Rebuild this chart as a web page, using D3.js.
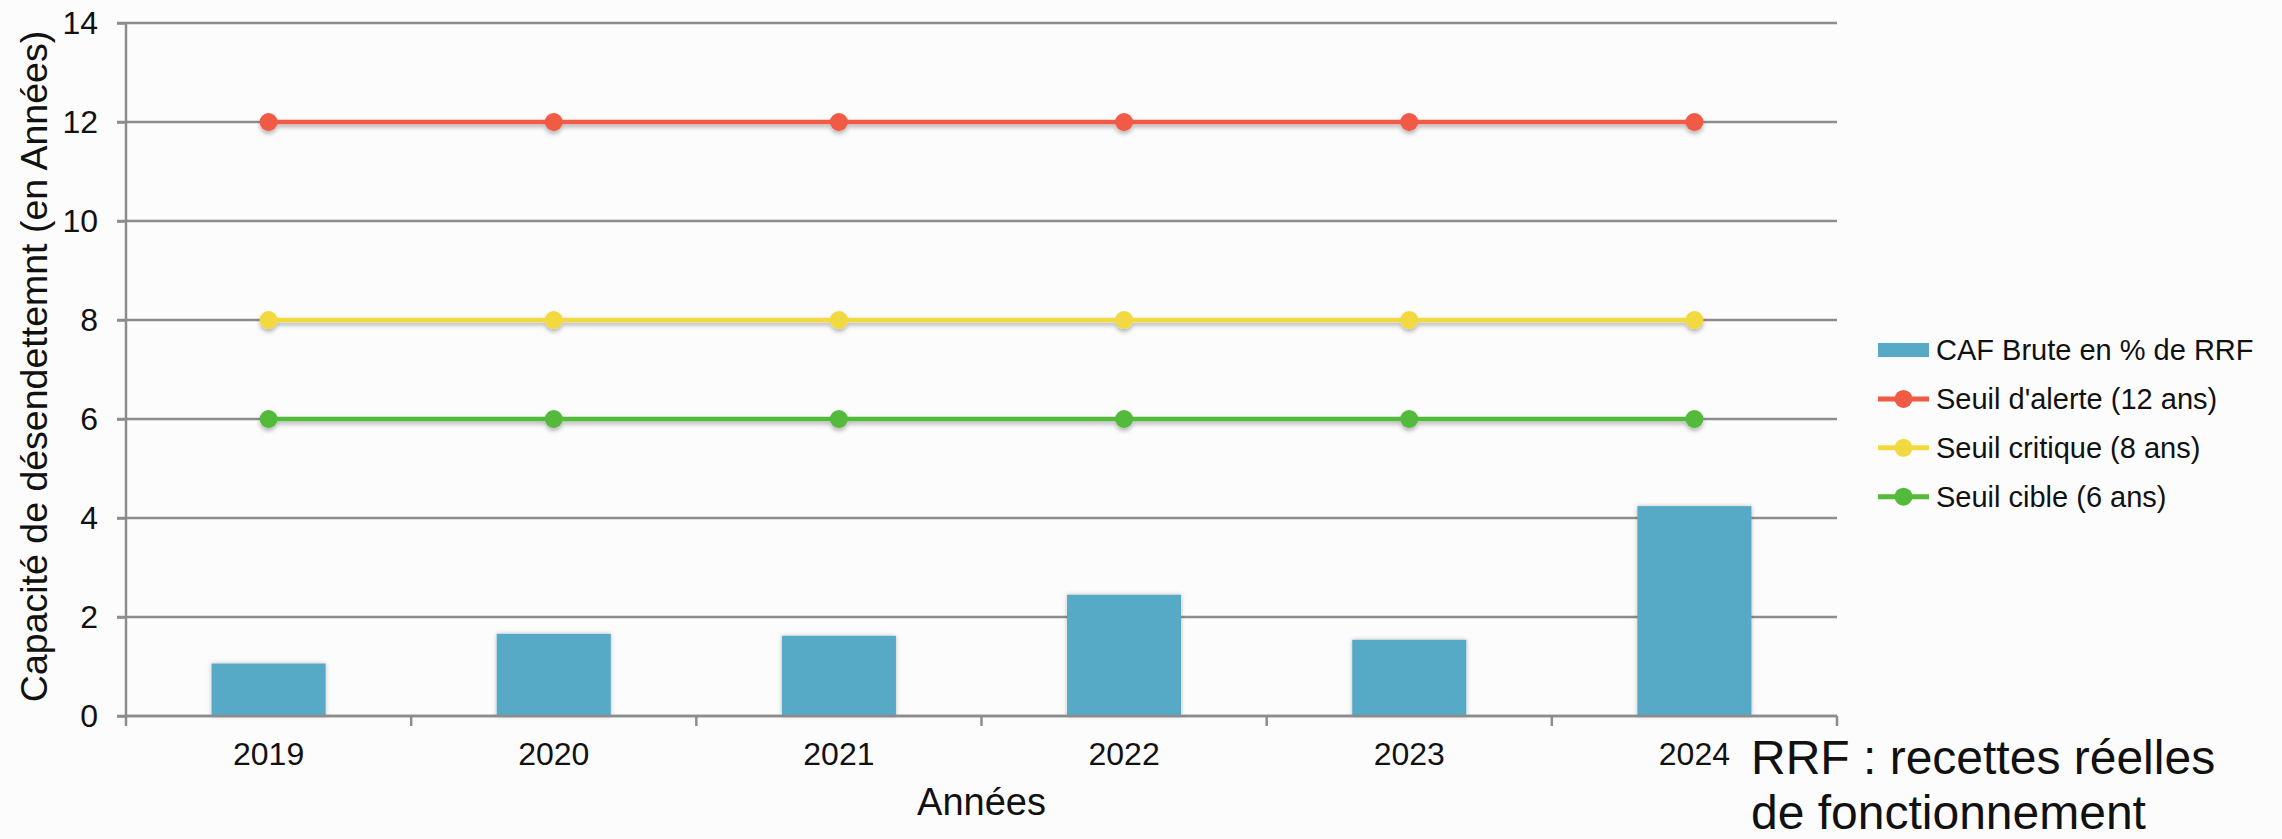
<!DOCTYPE html>
<html lang="fr">
<head>
<meta charset="utf-8">
<script src="https://cdn.jsdelivr.net/npm/d3@7"></script>
<style>
  html, body { margin: 0; padding: 0; background: #fcfcfc; }
  svg { display: block; font-family: "Liberation Sans", Arial, sans-serif; }
</style>
</head>
<body>
<svg id="chart" width="2282" height="839"></svg>
<script>
// Années et valeurs
const years = ["2019", "2020", "2021", "2022", "2023", "2024"];
const cafBrute = [1.06, 1.66, 1.62, 2.45, 1.54, 4.24];
const seuilAlerte = [12, 12, 12, 12, 12, 12];
const seuilCritique = [8, 8, 8, 8, 8, 8];
const seuilCible = [6, 6, 6, 6, 6, 6];
const yTicks = [0, 2, 4, 6, 8, 10, 12, 14];

const seriesNames = ["CAF Brute en % de RRF", "Seuil d'alerte (12 ans)", "Seuil critique (8 ans)", "Seuil cible (6 ans)"];
const colors = { bar: "#56aac5", alerte: "#f15a45", critique: "#f2d940", cible: "#53ba3a" };

const W = 2282, H = 839;
const plot = { left: 126, right: 1837, top: 23, bottom: 716 };

const svg = d3.select("#chart");

// Ombres portées des séries
const defs = svg.append("defs");
defs.append("filter").attr("id", "lineShadow")
  .attr("x", "-5%").attr("y", "-200%").attr("width", "110%").attr("height", "500%")
  .append("feDropShadow")
  .attr("dx", 0).attr("dy", 3).attr("stdDeviation", 2)
  .attr("flood-color", "#000").attr("flood-opacity", 0.28);
defs.append("filter").attr("id", "barShadow")
  .attr("x", "-20%").attr("y", "-10%").attr("width", "140%").attr("height", "120%")
  .append("feDropShadow")
  .attr("dx", 0).attr("dy", 0).attr("stdDeviation", 2)
  .attr("flood-color", "#000").attr("flood-opacity", 0.25);

svg.append("rect").attr("width", W).attr("height", H).attr("fill", "#fcfcfc");

const x = d3.scaleBand().domain(years).range([plot.left, plot.right]).paddingInner(0.6).paddingOuter(0.3);
const xPos = d => x(d) + x.bandwidth() / 2;
const y = d3.scaleLinear().domain([0, 14]).range([plot.bottom, plot.top]);

// Quadrillage horizontal
svg.append("g").selectAll("line").data(yTicks).join("line")
  .attr("x1", plot.left - 9).attr("x2", plot.right)
  .attr("y1", d => y(d)).attr("y2", d => y(d))
  .attr("stroke", "#8c8c8c").attr("stroke-width", 2.5);

// Axe vertical
const yAxis = svg.append("g").attr("transform", `translate(${plot.left},0)`)
  .call(d3.axisLeft(y).tickValues(yTicks).tickSize(9).tickPadding(19).tickFormat(d3.format("d")));
yAxis.select(".domain").attr("stroke", "#8c8c8c").attr("stroke-width", 2.5)
  .attr("d", `M0,${plot.top}V${plot.bottom}`);
yAxis.selectAll(".tick line").attr("stroke", "#8c8c8c").attr("stroke-width", 2.5);
yAxis.selectAll(".tick text").attr("font-size", 32).attr("fill", "#111")
  .attr("font-family", "'Liberation Sans', Arial, sans-serif");

// Barres
svg.append("g").selectAll("rect").data(years).join("rect")
  .attr("x", d => x(d))
  .attr("y", (d, i) => y(cafBrute[i]))
  .attr("width", x.bandwidth())
  .attr("height", (d, i) => y(0) - y(cafBrute[i]))
  .attr("fill", colors.bar)
  .attr("filter", "url(#barShadow)");

// Axe horizontal
const step = x.step();
const bounds = years.map(d => xPos(d) - step / 2).concat([xPos(years[years.length - 1]) + step / 2]);
const xAxisG = svg.append("g");
xAxisG.append("line")
  .attr("x1", plot.left).attr("x2", plot.right)
  .attr("y1", y(0)).attr("y2", y(0))
  .attr("stroke", "#8c8c8c").attr("stroke-width", 2.5);
xAxisG.selectAll("line.b").data(bounds).join("line").attr("class", "b")
  .attr("x1", d => d).attr("x2", d => d)
  .attr("y1", y(0)).attr("y2", y(0) + 10)
  .attr("stroke", "#8c8c8c").attr("stroke-width", 2.5);
const xAxis = svg.append("g").attr("transform", `translate(0,${plot.bottom})`)
  .call(d3.axisBottom(x).tickSize(0).tickPadding(26));
xAxis.select(".domain").remove();
xAxis.selectAll(".tick text").attr("font-size", 32).attr("fill", "#111")
  .attr("font-family", "'Liberation Sans', Arial, sans-serif");

// Lignes de seuil
const lineGen = d3.line().x((d, i) => xPos(years[i])).y(d => y(d));
const lineSeries = [
  { values: seuilAlerte, color: colors.alerte },
  { values: seuilCritique, color: colors.critique },
  { values: seuilCible, color: colors.cible }
];
lineSeries.forEach(s => {
  const g = svg.append("g").attr("filter", "url(#lineShadow)");
  g.append("path").datum(s.values).attr("d", lineGen)
    .attr("fill", "none").attr("stroke", s.color).attr("stroke-width", 4.5);
  g.selectAll("circle").data(s.values).join("circle")
    .attr("cx", (d, i) => xPos(years[i])).attr("cy", d => y(d)).attr("r", 9)
    .attr("fill", s.color);
});

// Titres d'axes
svg.append("text")
  .attr("x", (plot.left + plot.right) / 2).attr("y", 815)
  .attr("text-anchor", "middle").attr("font-size", 38).attr("fill", "#111")
  .text("Années");
svg.append("text")
  .attr("transform", `translate(47,${(plot.top + plot.bottom) / 2 - 3}) rotate(-90)`)
  .attr("text-anchor", "middle").attr("font-size", 37.5).attr("fill", "#111")
  .text("Capacité de désendettemnt (en Années)");

// Légende
const legend = svg.append("g").attr("transform", "translate(1878,350)");
const rowH = 48.9;
const legendColors = [colors.bar, colors.alerte, colors.critique, colors.cible];
seriesNames.forEach((name, i) => {
  const row = legend.append("g").attr("transform", `translate(0,${i * rowH})`);
  if (i === 0) {
    row.append("rect").attr("x", 0).attr("y", -7).attr("width", 51).attr("height", 14).attr("fill", legendColors[i]);
  } else {
    row.append("line").attr("x1", 0).attr("x2", 51).attr("y1", 0).attr("y2", 0)
      .attr("stroke", legendColors[i]).attr("stroke-width", 5);
    row.append("circle").attr("cx", 25.5).attr("cy", 0).attr("r", 9).attr("fill", legendColors[i]);
  }
  row.append("text").attr("x", 58).attr("y", 0).attr("dy", "0.35em")
    .attr("font-size", 29).attr("fill", "#111").text(name);
});

// Note
const note = svg.append("text").attr("font-size", 48).attr("fill", "#111");
note.append("tspan").attr("x", 1751).attr("y", 774).text("RRF : recettes réelles");
note.append("tspan").attr("x", 1751).attr("y", 829).text("de fonctionnement");
</script>
</body>
</html>
